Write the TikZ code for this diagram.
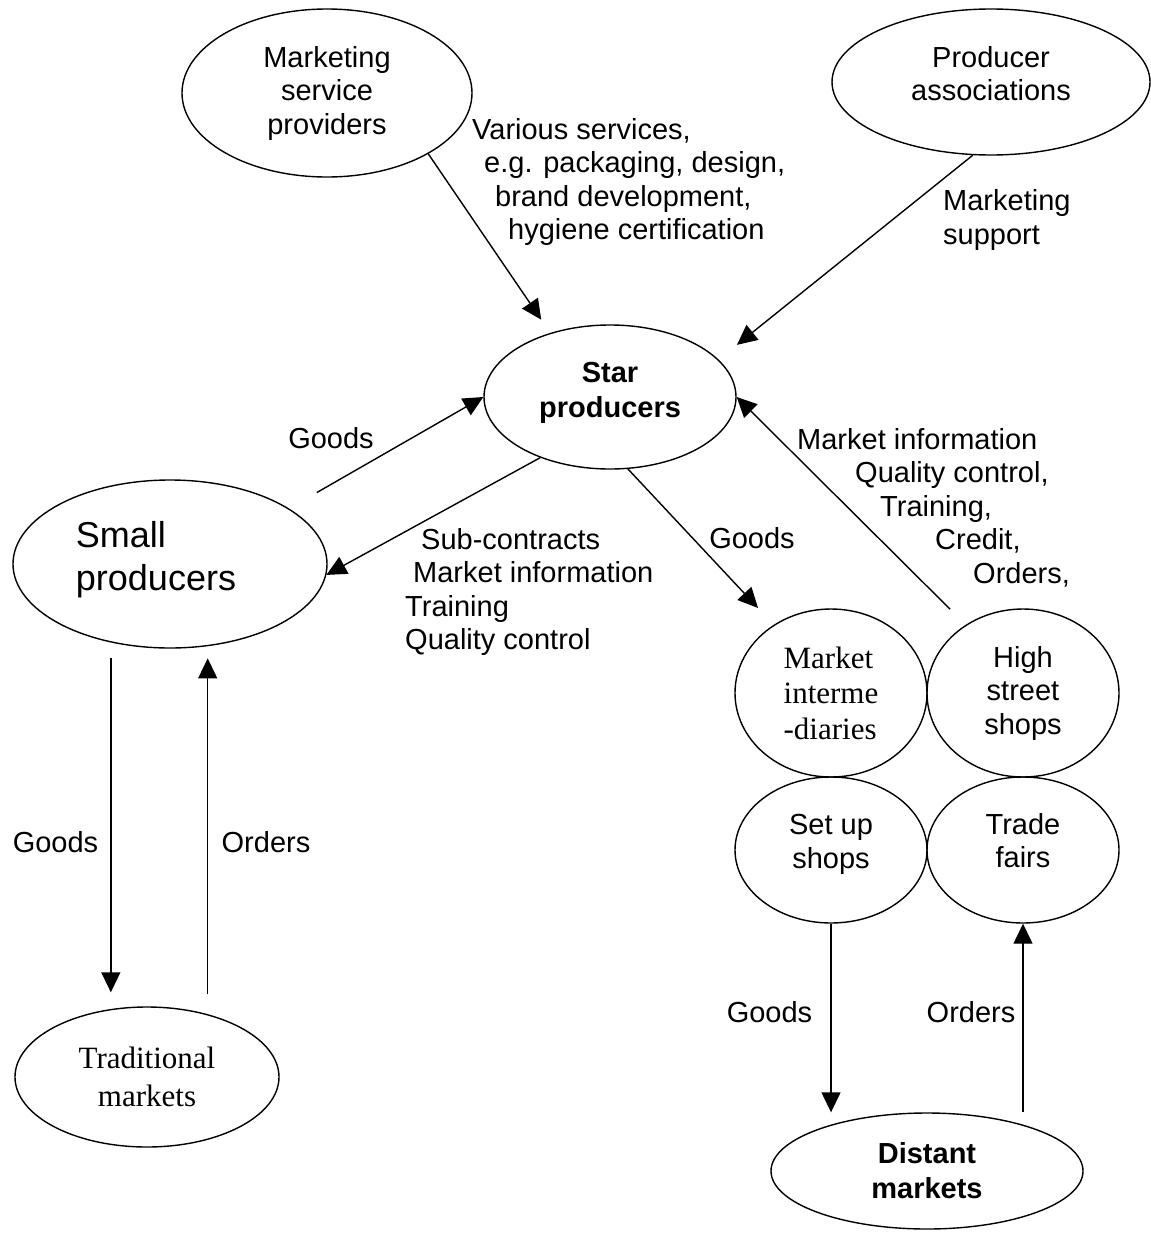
\documentclass[tikz,border=0pt]{standalone}
\usepackage{fontspec}
\setmainfont{Liberation Sans}
\newfontfamily\timesfont{Liberation Serif}
\usetikzlibrary{arrows.meta,shapes.geometric}
\newcommand{\sink}[1]{\rule[-#1]{0pt}{#1}}

\begin{document}
\begin{tikzpicture}[x=1pt,y=-1pt,
    every node/.style={inner sep=0pt,font=\fontsize{29}{33.5}\selectfont},
    oval/.style={draw,ellipse,line width=1.4pt,align=center},
    flow/.style={line width=1.4pt,-{Triangle[length=20pt,width=19pt]}}]
  \useasboundingbox (0,0) rectangle (1151,1237);

  \node[oval,minimum width=290pt,minimum height=168pt] (msp) at (327,93) {Marketing\\service\\providers};
  \node[oval,minimum width=318pt,minimum height=146pt] (assoc) at (991,82) {Producer\\associations\sink{17pt}};
  \node[oval,minimum width=252pt,minimum height=144pt,font=\fontsize{29}{35}\selectfont\bfseries] (star) at (610,397) {Star\\producers\sink{15pt}};
  \node[oval,minimum width=314pt,minimum height=168pt,align=left,font=\fontsize{36}{43}\selectfont] (small) at (170,564) {Small\\producers\hspace*{28pt}\sink{16pt}};
  \node[oval,minimum width=192pt,minimum height=168pt,align=left,font=\timesfont\fontsize{31}{35.5}\selectfont] (inter) at (831,693) {Market\\interme\hspace*{14pt}\\-diaries};
  \node[oval,minimum width=192pt,minimum height=168pt] (shops) at (1023,693) {High\\street\\shops};
  \node[oval,minimum width=192pt,minimum height=146pt] (setup) at (831,850) {Set up\\shops\sink{17pt}};
  \node[oval,minimum width=192pt,minimum height=146pt] (fairs) at (1023,850) {Trade\\fairs\sink{19pt}};
  \node[oval,minimum width=264pt,minimum height=140pt,font=\timesfont\fontsize{31}{38}\selectfont] (trad) at (147,1077) {Traditional\\markets};
  \node[oval,minimum width=312pt,minimum height=116pt,font=\fontsize{29}{35}\selectfont\bfseries] (distant) at (927,1171) {Distant\\markets};

  \draw[flow,shorten >=16pt] (msp.-31) -- (star.133);
  \draw[flow,shorten >=23.5pt] (assoc.-104) -- (star.19);
  \draw[flow,shorten <=32pt] (small.25) -- (star.west);
  \draw[flow] (star.-139) -- (small.-4);
  \draw[flow,shorten >=23pt] (star.-76) -- (inter.130);
  \draw[flow,shorten <=22pt] (shops.130) -- (star.east);
  \draw[flow,shorten <=15pt,shorten >=14pt] (small.-127) -- (small.-127 |- trad.north);
  \draw[flow,shorten <=20pt,shorten >=12pt] (trad.46) -- (trad.46 |- small.-66);
  \draw[flow] (setup.south) -- (setup.south |- distant.north);
  \draw[flow] (fairs.south |- distant.north) -- (fairs.south);

  \node[anchor=west,align=left] (services) at (472,182) {Various services,\\\hspace*{12pt}e.g. packaging, design,\\\hspace*{23pt}brand development,\\\hspace*{36pt}hygiene certification};
  \node[anchor=west,align=left] (support) at (943,220) {Marketing\\support};
  \node (goods-in) at (331,438) {Goods};
  \node[anchor=west,align=left] (advice) at (405,592) {\hspace*{16pt}Sub-contracts\\\hspace*{8pt}Market information\\Training\\Quality control};
  \node (goods-out) at (752,538) {Goods};
  \node[anchor=west,align=left] (feedback) at (797,507.5) {Market information\\\hspace*{58pt}Quality control,\\\hspace*{83pt}Training,\\\hspace*{138pt}Credit,\\\hspace*{176pt}Orders,};
  \node (goods-down) at (55.5,842) {Goods};
  \node (orders-up) at (266,842) {Orders};
  \node (goods-far) at (769.5,1012) {Goods};
  \node (orders-far) at (971,1012) {Orders};
\end{tikzpicture}
\end{document}
